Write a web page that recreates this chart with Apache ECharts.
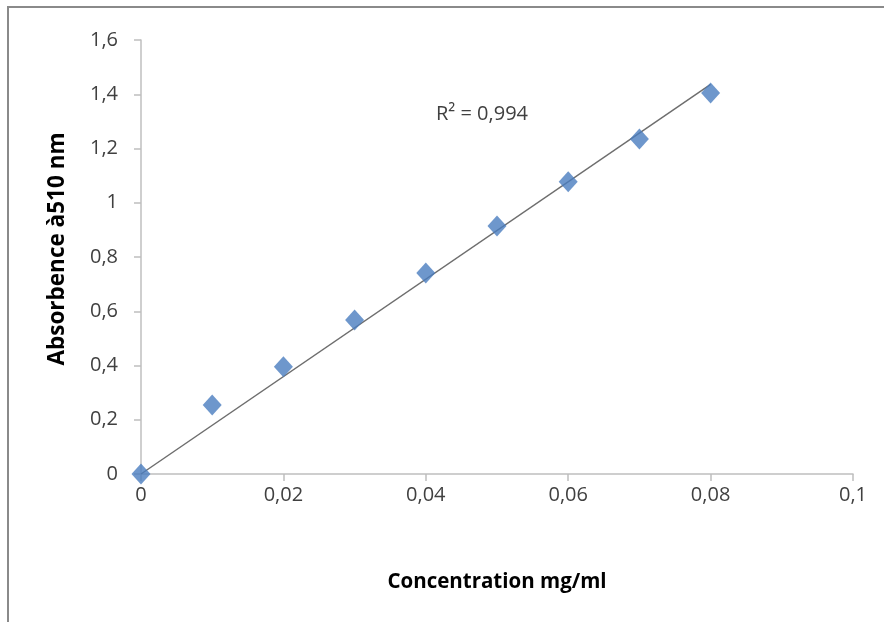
<!DOCTYPE html>
<html>
<head>
<meta charset="utf-8">
<script src="https://cdn.jsdelivr.net/npm/echarts@6/dist/echarts.min.js"></script>
<style>
  html, body { margin: 0; padding: 0; background: #fff; }
  #chart { width: 884px; height: 622px; }
</style>
</head>
<body>
<div id="chart"></div>
<script>
const concentration = [0, 0.01, 0.02, 0.03, 0.04, 0.05, 0.06, 0.07, 0.08];
const absorbance = [0, 0.254, 0.395, 0.568, 0.741, 0.914, 1.077, 1.235, 1.405];
// linear trend through origin, as drawn
const trendX = [0, 0.08];
const trendY = [0, 1.436];
const r2Label = "R² = 0,994";

const comma = v => String(+v.toFixed(2)).replace(".", ",");
const font = "'Open Sans', 'Noto Sans', sans-serif";

const chart = echarts.init(document.getElementById("chart"));
chart.setOption({
  animation: false,
  textStyle: { fontFamily: font },
  graphic: [
    { type: "rect", shape: { x: 8, y: 7, width: 900, height: 640 }, style: { fill: "none", stroke: "#8a8a8a", lineWidth: 2 } },
    { type: "text", left: 436, top: 104, style: { text: r2Label, fontSize: 20, fill: "#404040", fontFamily: font } },
  ],
  grid: { left: 141, right: 31, top: 40, bottom: 148 },
  xAxis: {
    type: "value", min: 0, max: 0.1, interval: 0.02,
    name: "Concentration mg/ml", nameLocation: "middle", nameGap: 98,
    nameTextStyle: { fontSize: 20.5, fontWeight: "bold", color: "#000" },
    axisLine: { show: true, lineStyle: { color: "#bfbfbf", width: 1.5 } },
    axisTick: { show: true, length: 7, lineStyle: { color: "#bfbfbf", width: 1.5 } },
    axisLabel: { margin: 11, fontSize: 20, color: "#404040", formatter: comma },
    splitLine: { show: false },
  },
  yAxis: {
    type: "value", min: 0, max: 1.6, interval: 0.2,
    name: "Absorbence à510 nm", nameLocation: "middle", nameGap: 72,
    nameTextStyle: { fontSize: 22.5, fontWeight: "bold", color: "#000", padding: [0, 0, 0, 16] },
    axisLine: { show: true, lineStyle: { color: "#bfbfbf", width: 1.5 } },
    axisTick: { show: true, length: 7, lineStyle: { color: "#bfbfbf", width: 1.5 } },
    axisLabel: { margin: 23, fontSize: 20, color: "#404040", formatter: comma },
    splitLine: { show: false },
  },
  series: [
    {
      type: "line",
      data: trendX.map((x, i) => [x, trendY[i]]),
      symbol: "none",
      lineStyle: { color: "#6e6e6e", width: 1.5 },
      z: 2,
    },
    {
      type: "scatter",
      data: concentration.map((x, i) => [x, absorbance[i]]),
      symbol: "diamond",
      symbolSize: [19, 21],
      itemStyle: { color: "#4a7dbf" },
      z: 3,
    },
  ],
});
</script>
</body>
</html>
